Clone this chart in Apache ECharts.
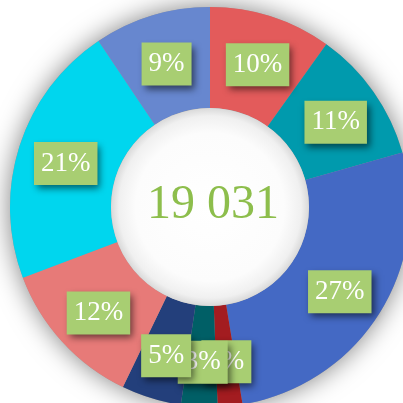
<!DOCTYPE html>
<html>
<head>
<meta charset="utf-8">
<script src="https://cdn.jsdelivr.net/npm/echarts@6/dist/echarts.min.js"></script>
<style>
  html, body { margin: 0; padding: 0; background: #fff; }
  #chart { width: 403px; height: 403px; }
</style>
</head>
<body>
<div id="chart"></div>
<script>
// slices, clockwise from 12 o'clock
const names = ['A', 'B', 'C', 'D', 'E', 'F', 'G', 'H', 'I'];
const values = [1880, 2040, 5100, 380, 560, 920, 2300, 4060, 1791];
const colors = ['#E35B5B', '#009AAD', '#4469C4', '#A31C20', '#005F66', '#233F7B', '#E77A78', '#00D6EE', '#6787CF'];
const totalText = '19 031';

const cx = 210, cy = 207;
const r0 = 99, r1 = 200;

const chart = echarts.init(document.getElementById('chart'));

chart.setOption({
  backgroundColor: '#fff',
  animation: false,
  graphic: [
    {
      type: 'circle',
      shape: { cx: cx, cy: cy, r: r0 },
      z: 10,
      silent: true,
      style: {
        fill: {
          type: 'radial', x: 0.5, y: 0.5, r: 0.5,
          colorStops: [
            { offset: 0, color: '#ffffff' },
            { offset: 0.75, color: '#fcfcfc' },
            { offset: 0.92, color: '#f0f0f0' },
            { offset: 1, color: '#d9d9d9' }
          ]
        }
      }
    },
    {
      type: 'text',
      x: 213, y: 205,
      z: 20,
      silent: true,
      style: {
        text: totalText,
        fill: '#8DBE4C',
        font: '48px "Liberation Serif", "DejaVu Serif", serif',
        align: 'center',
        verticalAlign: 'middle'
      }
    }
  ],
  series: [
    {
      // shadow ring underneath
      type: 'pie',
      silent: true,
      z: 1,
      center: [cx, cy],
      radius: [r0, r1],
      label: { show: false },
      labelLine: { show: false },
      itemStyle: {
        color: '#999',
        shadowBlur: 26,
        shadowColor: 'rgba(0,0,0,0.5)'
      },
      data: [{ value: 1, name: 'ring' }]
    },
    {
      type: 'pie',
      z: 2,
      center: [cx, cy],
      radius: [r0, r1],
      startAngle: 90,
      clockwise: true,
      avoidLabelOverlap: false,
      labelLayout: { hideOverlap: false },
      labelLine: { show: false },
      label: {
        show: true,
        position: 'inside',
        offset: [1, 3],
        formatter: p => Math.round(p.percent) + '%',
        color: '#fff',
        fontFamily: '"Liberation Serif", "DejaVu Serif", serif',
        fontSize: 27,
        backgroundColor: '#A8CE72',
        padding: [10, 7, 6, 7],
        shadowColor: 'rgba(0,0,0,0.55)',
        shadowBlur: 7,
        shadowOffsetX: 3,
        shadowOffsetY: 4
      },
      itemStyle: { borderWidth: 0 },
      data: names.map((n, i) => ({
        name: n,
        value: values[i],
        itemStyle: { color: colors[i] }
      }))
    }
  ]
});
</script>
</body>
</html>
